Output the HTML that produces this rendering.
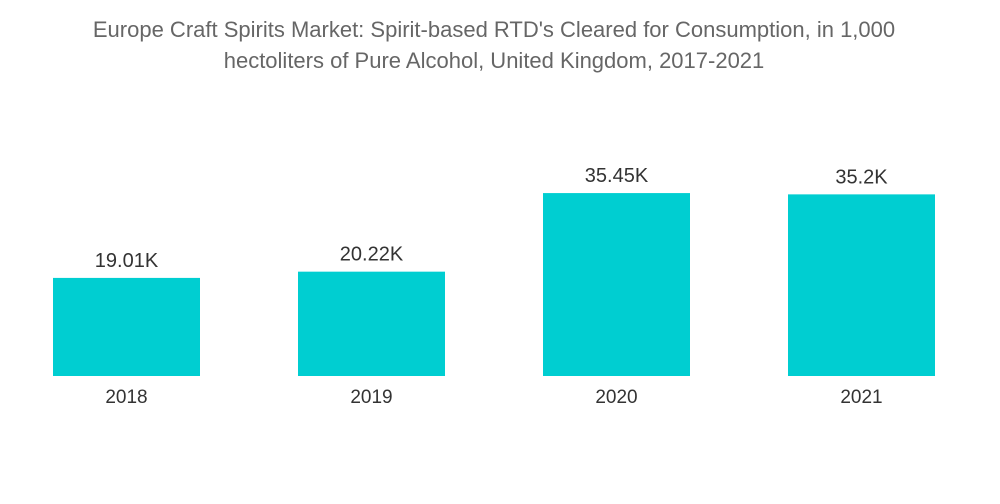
<!DOCTYPE html>
<html><head><meta charset="utf-8">
<style>
body{margin:0;background:#fff;width:1000px;height:504px;overflow:hidden;font-family:"Liberation Sans",sans-serif;}
#title{position:absolute;left:0;width:988px;top:14px;text-align:center;color:#666;font-size:22px;line-height:31px;}
</style></head><body>
<div id="title">Europe Craft Spirits Market: Spirit-based RTD's Cleared for Consumption, in 1,000<br>hectoliters of Pure Alcohol, United Kingdom, 2017-2021</div>
<svg id="chart" width="1000" height="504" style="position:absolute;left:0;top:0"></svg>
<script>
const categories=["2018","2019","2020","2021"];
const values=[19.01,20.22,35.45,35.2];
const valueLabels=["19.01K","20.22K","35.45K","35.2K"];
const svg=document.getElementById('chart');
const NS='http://www.w3.org/2000/svg';
const baseY=376, pxPerUnit=5.16, x0=4, x1=984;
const band=(x1-x0)/categories.length, bw=147;
function xC(i){return x0+band*(i+0.5);}
function yS(v){return baseY-v*pxPerUnit;}
categories.forEach((c,i)=>{
  const r=document.createElementNS(NS,'rect');
  r.setAttribute('x',xC(i)-bw/2);r.setAttribute('y',yS(values[i]));
  r.setAttribute('width',bw);r.setAttribute('height',baseY-yS(values[i]));
  r.setAttribute('fill','#00ced1');
  
  
  svg.appendChild(r);
  const t=document.createElementNS(NS,'text');
  t.setAttribute('x',xC(i));t.setAttribute('y',yS(values[i])-11);
  t.setAttribute('text-anchor','middle');t.setAttribute('font-size','20');t.setAttribute('fill','#333');
  t.setAttribute('font-family','Liberation Sans, sans-serif');
  t.textContent=valueLabels[i];
  
  
  svg.appendChild(t);
  const l=document.createElementNS(NS,'text');
  l.setAttribute('x',xC(i));l.setAttribute('y',403);
  l.setAttribute('text-anchor','middle');l.setAttribute('font-size','19');l.setAttribute('fill','#333');
  l.setAttribute('font-family','Liberation Sans, sans-serif');
  l.textContent=c;
  
  
  svg.appendChild(l);
});
</script>
</body></html>
